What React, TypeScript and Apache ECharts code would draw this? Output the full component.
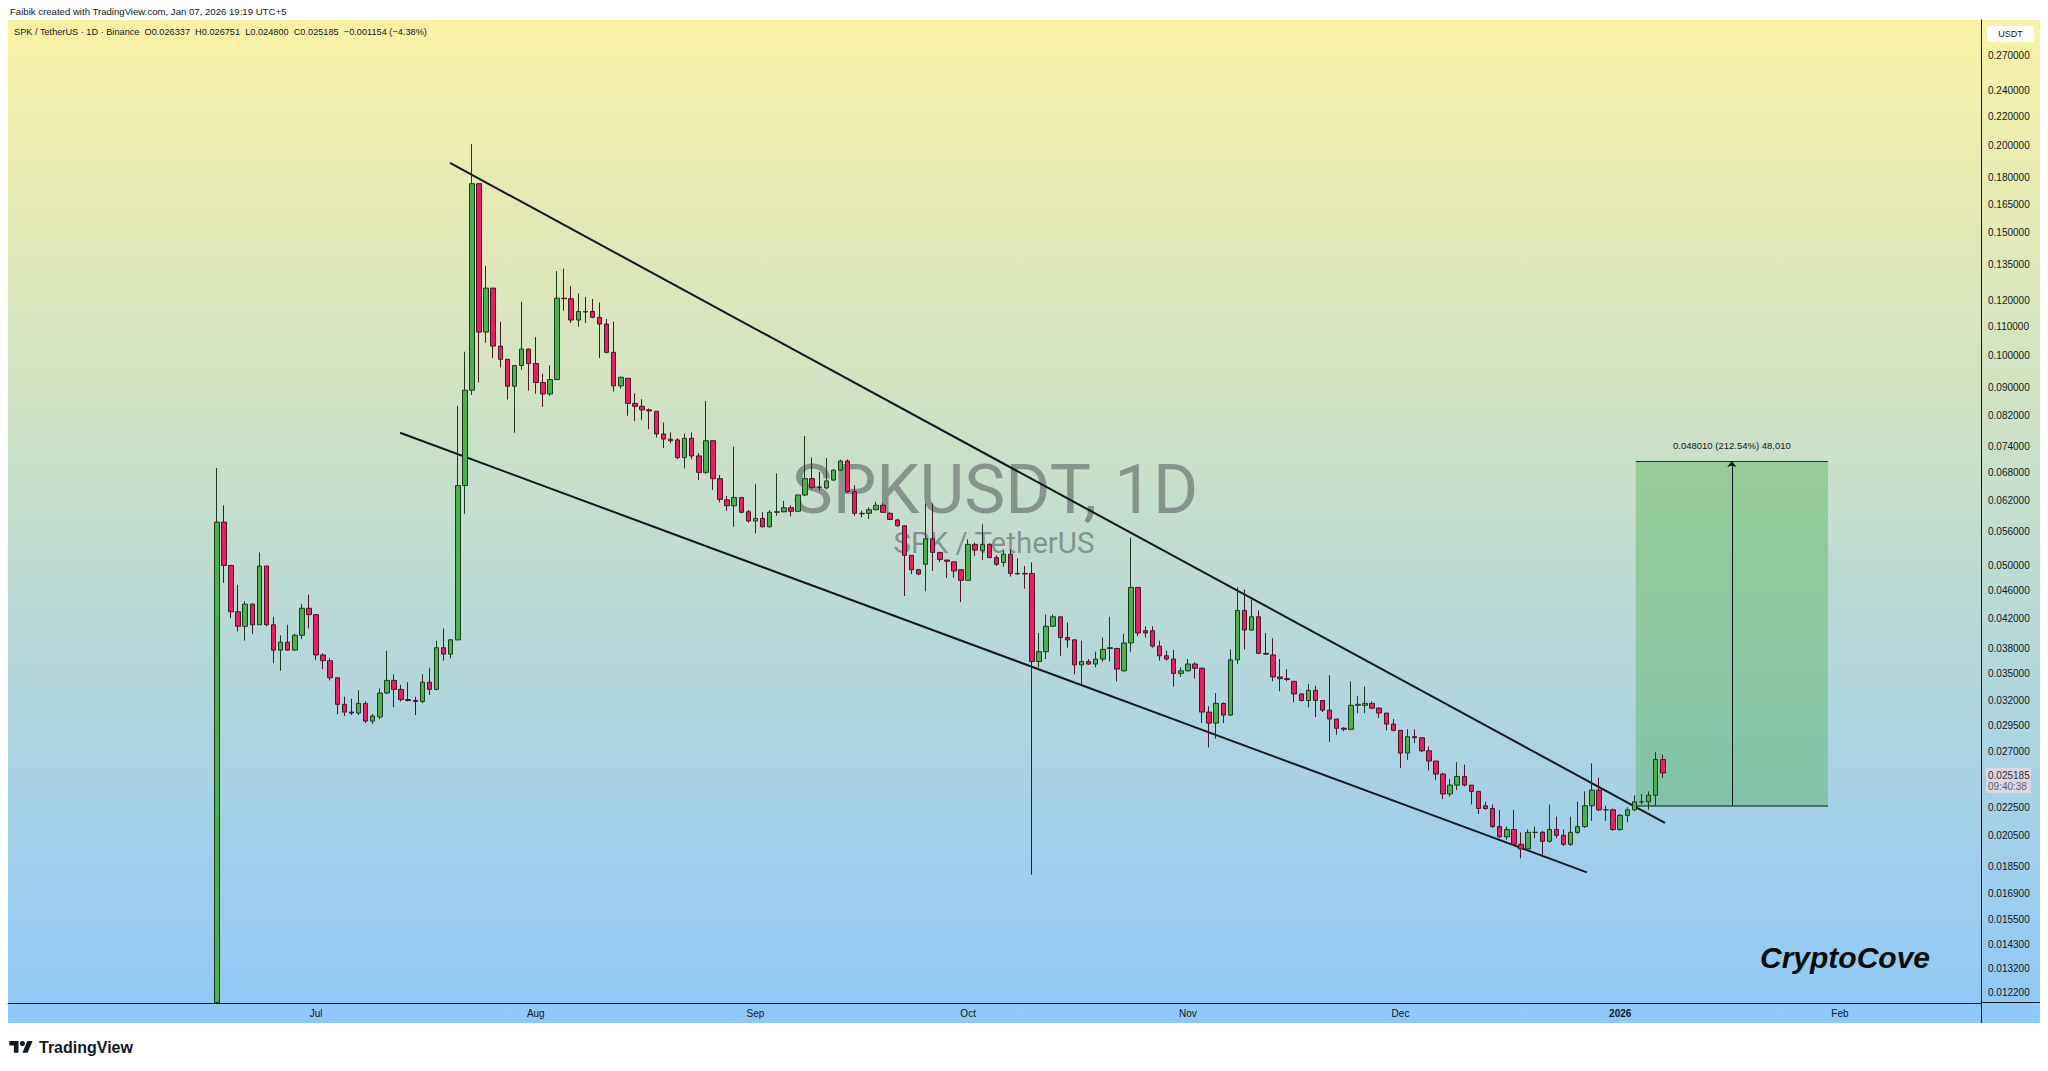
import React, { useEffect, useRef } from 'react';
import * as echarts from 'echarts';

// ---------- DATA ----------
const startDate = '2025-06-17'; // first daily candle (index 0)

const opens = [
  0.0118, 0.0577, 0.0500, 0.0429, 0.0409, 0.0440, 0.0411, 0.0499, 0.0411, 0.0378,
  0.0388, 0.0378, 0.0397, 0.0434, 0.0425, 0.0372, 0.0365, 0.0345, 0.0316, 0.0308,
  0.0307, 0.0317, 0.0299, 0.0303, 0.0328, 0.0342, 0.0332, 0.0321, 0.0320, 0.0319,
  0.0340, 0.0332, 0.0381, 0.0373, 0.0391, 0.0651, 0.0892, 0.1765, 0.1081, 0.1250,
  0.1032, 0.0988, 0.0904, 0.0968, 0.1022, 0.0974, 0.0915, 0.0881, 0.0924, 0.1209,
  0.1207, 0.1125, 0.1157, 0.1157, 0.1135, 0.1110, 0.1011, 0.0905, 0.0928, 0.0854,
  0.0846, 0.0836, 0.0832, 0.0772, 0.0759, 0.0757, 0.0714, 0.0761, 0.0718, 0.0680,
  0.0755, 0.0666, 0.0621, 0.0609, 0.0626, 0.0597, 0.0579, 0.0584, 0.0568, 0.0596,
  0.0597, 0.0605, 0.0598, 0.0631, 0.0666, 0.0648, 0.0646, 0.0663, 0.0685, 0.0706,
  0.0638, 0.0594, 0.0594, 0.0601, 0.0610, 0.0594, 0.0581, 0.0570, 0.0517, 0.0493,
  0.0502, 0.0546, 0.0522, 0.0509, 0.0506, 0.0493, 0.0476, 0.0536, 0.0525, 0.0536,
  0.0513, 0.0505, 0.0519, 0.0487, 0.0487, 0.0487, 0.0364, 0.0376, 0.0409, 0.0422,
  0.0394, 0.0391, 0.0360, 0.0364, 0.0361, 0.0367, 0.0380, 0.0380, 0.0353, 0.0387,
  0.0465, 0.0403, 0.0403, 0.0383, 0.0371, 0.0367, 0.0350, 0.0353, 0.0361, 0.0356,
  0.0308, 0.0297, 0.0317, 0.0305, 0.0366, 0.0431, 0.0404, 0.0422, 0.0374, 0.0372,
  0.0346, 0.0344, 0.0341, 0.0327, 0.0320, 0.0331, 0.0320, 0.0310, 0.0301, 0.0292,
  0.0291, 0.0315, 0.0315, 0.0317, 0.0312, 0.0307, 0.0296, 0.0290, 0.0269, 0.0284,
  0.0283, 0.0271, 0.0262, 0.0251, 0.0235, 0.0242, 0.0249, 0.0242, 0.0237, 0.0226,
  0.0224, 0.0211, 0.0204, 0.0209, 0.0199, 0.0196, 0.0207, 0.0207, 0.0201, 0.0209,
  0.0205, 0.0199, 0.0207, 0.0211, 0.0226, 0.0238, 0.0223, 0.0223, 0.0209, 0.0219,
  0.0223, 0.0229, 0.0229, 0.0234, 0.026337,
];

const closes = [
  0.0577, 0.0500, 0.0429, 0.0409, 0.0440, 0.0411, 0.0499, 0.0411, 0.0378, 0.0388,
  0.0378, 0.0397, 0.0434, 0.0425, 0.0372, 0.0365, 0.0345, 0.0316, 0.0308, 0.0307,
  0.0317, 0.0299, 0.0304, 0.0328, 0.0342, 0.0332, 0.0321, 0.0320, 0.0319, 0.0340,
  0.0332, 0.0381, 0.0373, 0.0391, 0.0651, 0.0892, 0.1765, 0.1081, 0.1250, 0.1032,
  0.0988, 0.0904, 0.0968, 0.1022, 0.0974, 0.0915, 0.0881, 0.0924, 0.1209, 0.1207,
  0.1125, 0.1157, 0.1155, 0.1135, 0.1110, 0.1011, 0.0905, 0.0931, 0.0854, 0.0846,
  0.0836, 0.0833, 0.0772, 0.0759, 0.0755, 0.0714, 0.0761, 0.0718, 0.0680, 0.0755,
  0.0666, 0.0622, 0.0609, 0.0626, 0.0596, 0.0579, 0.0584, 0.0568, 0.0596, 0.0597,
  0.0605, 0.0598, 0.0631, 0.0666, 0.0647, 0.0647, 0.0661, 0.0685, 0.0706, 0.0638,
  0.0594, 0.0593, 0.0601, 0.0610, 0.0596, 0.0582, 0.0570, 0.0517, 0.0493, 0.0486,
  0.0546, 0.0522, 0.0510, 0.0507, 0.0491, 0.0476, 0.0536, 0.0526, 0.0536, 0.0513,
  0.0502, 0.0519, 0.0487, 0.0486, 0.0486, 0.0364, 0.0376, 0.0409, 0.0422, 0.0394,
  0.0391, 0.0360, 0.0364, 0.0361, 0.0367, 0.0379, 0.0381, 0.0355, 0.0387, 0.0465,
  0.0400, 0.0400, 0.0383, 0.0371, 0.0367, 0.0350, 0.0353, 0.0361, 0.0356, 0.0308,
  0.0297, 0.0317, 0.0305, 0.0366, 0.0431, 0.0404, 0.0422, 0.0374, 0.0373, 0.0346,
  0.0344, 0.0343, 0.0327, 0.0320, 0.0331, 0.0320, 0.0310, 0.0301, 0.0292, 0.0291,
  0.0315, 0.0316, 0.0317, 0.0312, 0.0307, 0.0296, 0.0290, 0.0269, 0.0284, 0.0283,
  0.0271, 0.0262, 0.0251, 0.0235, 0.0242, 0.0249, 0.0242, 0.0237, 0.0224, 0.0224,
  0.0211, 0.0204, 0.0209, 0.0199, 0.0196, 0.0207, 0.0207, 0.0201, 0.0209, 0.0205,
  0.0199, 0.0207, 0.0211, 0.0226, 0.0238, 0.0223, 0.0223, 0.0209, 0.0219, 0.0223,
  0.0229, 0.0229, 0.0234, 0.026337, 0.025185,
];

const highs = [
  0.0690, 0.0610, 0.0500, 0.0469, 0.0444, 0.0441, 0.0522, 0.0499, 0.0422, 0.0397,
  0.0411, 0.0399, 0.0440, 0.0454, 0.0425, 0.0374, 0.0368, 0.0345, 0.0324, 0.0322,
  0.0331, 0.0319, 0.0306, 0.0333, 0.0377, 0.0349, 0.0337, 0.0340, 0.0324, 0.0349,
  0.0356, 0.0390, 0.0406, 0.0392, 0.0847, 0.1013, 0.2012, 0.1765, 0.1346, 0.1250,
  0.1119, 0.0989, 0.0968, 0.1195, 0.1023, 0.1063, 0.0942, 0.0968, 0.1322, 0.1333,
  0.1258, 0.1228, 0.1214, 0.1206, 0.1192, 0.1129, 0.1119, 0.0933, 0.0928, 0.0883,
  0.0866, 0.0840, 0.0832, 0.0802, 0.0776, 0.0761, 0.0773, 0.0776, 0.0725, 0.0861,
  0.0755, 0.0674, 0.0629, 0.0740, 0.0626, 0.0601, 0.0654, 0.0596, 0.0600, 0.0678,
  0.0619, 0.0610, 0.0632, 0.0767, 0.0714, 0.0681, 0.0713, 0.0687, 0.0709, 0.0710,
  0.0652, 0.0599, 0.0606, 0.0617, 0.0614, 0.0596, 0.0583, 0.0571, 0.0517, 0.0494,
  0.0614, 0.0614, 0.0522, 0.0509, 0.0506, 0.0493, 0.0545, 0.0539, 0.0573, 0.0538,
  0.0517, 0.0525, 0.0527, 0.0512, 0.0499, 0.0505, 0.0400, 0.0425, 0.0425, 0.0422,
  0.0414, 0.0391, 0.0390, 0.0367, 0.0376, 0.0394, 0.0422, 0.0381, 0.0399, 0.0548,
  0.0465, 0.0409, 0.0409, 0.0390, 0.0377, 0.0378, 0.0357, 0.0367, 0.0363, 0.0357,
  0.0314, 0.0328, 0.0318, 0.0379, 0.0465, 0.0462, 0.0447, 0.0431, 0.0400, 0.0393,
  0.0367, 0.0355, 0.0341, 0.0328, 0.0338, 0.0336, 0.0320, 0.0348, 0.0301, 0.0293,
  0.0341, 0.0325, 0.0335, 0.0319, 0.0313, 0.0307, 0.0301, 0.0290, 0.0291, 0.0291,
  0.0283, 0.0275, 0.0262, 0.0252, 0.0247, 0.0261, 0.0259, 0.0242, 0.0237, 0.0229,
  0.0227, 0.0223, 0.0211, 0.0223, 0.0207, 0.0209, 0.0211, 0.0208, 0.0227, 0.0218,
  0.0209, 0.0218, 0.0229, 0.0237, 0.0260, 0.0248, 0.0226, 0.0224, 0.0220, 0.0225,
  0.0234, 0.0235, 0.0237, 0.0270, 0.026751,
];

const lows = [
  0.0118, 0.0472, 0.0420, 0.0402, 0.0390, 0.0399, 0.0411, 0.0409, 0.0362, 0.0353,
  0.0377, 0.0377, 0.0392, 0.0406, 0.0366, 0.0355, 0.0342, 0.0306, 0.0304, 0.0305,
  0.0305, 0.0297, 0.0296, 0.0301, 0.0327, 0.0313, 0.0319, 0.0319, 0.0305, 0.0317,
  0.0326, 0.0331, 0.0365, 0.0368, 0.0391, 0.0593, 0.0878, 0.0915, 0.1043, 0.0992,
  0.0962, 0.0865, 0.0775, 0.0955, 0.0891, 0.0882, 0.0844, 0.0875, 0.0924, 0.1160,
  0.1114, 0.1100, 0.1114, 0.1131, 0.0992, 0.1008, 0.0888, 0.0897, 0.0820, 0.0806,
  0.0809, 0.0784, 0.0763, 0.0737, 0.0749, 0.0710, 0.0689, 0.0710, 0.0663, 0.0676,
  0.0642, 0.0616, 0.0599, 0.0568, 0.0594, 0.0576, 0.0556, 0.0567, 0.0567, 0.0589,
  0.0596, 0.0588, 0.0596, 0.0629, 0.0643, 0.0640, 0.0643, 0.0661, 0.0684, 0.0636,
  0.0589, 0.0586, 0.0583, 0.0600, 0.0595, 0.0581, 0.0568, 0.0452, 0.0486, 0.0484,
  0.0459, 0.0491, 0.0506, 0.0480, 0.0480, 0.0443, 0.0476, 0.0516, 0.0509, 0.0513,
  0.0499, 0.0498, 0.0482, 0.0485, 0.0463, 0.0180, 0.0357, 0.0367, 0.0408, 0.0371,
  0.0381, 0.0349, 0.0338, 0.0360, 0.0357, 0.0364, 0.0364, 0.0341, 0.0352, 0.0376,
  0.0396, 0.0394, 0.0381, 0.0365, 0.0365, 0.0335, 0.0346, 0.0352, 0.0344, 0.0297,
  0.0274, 0.0282, 0.0297, 0.0304, 0.0361, 0.0379, 0.0403, 0.0373, 0.0372, 0.0341,
  0.0330, 0.0341, 0.0318, 0.0319, 0.0313, 0.0303, 0.0308, 0.0279, 0.0286, 0.0289,
  0.0290, 0.0307, 0.0307, 0.0311, 0.0302, 0.0290, 0.0289, 0.0256, 0.0263, 0.0278,
  0.0270, 0.0254, 0.0246, 0.0231, 0.0233, 0.0238, 0.0241, 0.0227, 0.0220, 0.0223,
  0.0210, 0.0203, 0.0202, 0.0198, 0.0190, 0.0195, 0.0203, 0.0192, 0.0200, 0.0203,
  0.0198, 0.0198, 0.0206, 0.0210, 0.0215, 0.0222, 0.0215, 0.0208, 0.0208, 0.0214,
  0.0222, 0.0227, 0.0223, 0.0226, 0.024800,
];

const monthStarts = ['2025-07-01', '2025-08-01', '2025-09-01', '2025-10-01', '2025-11-01', '2025-12-01', '2026-01-01', '2026-02-01'];
const monthLabels = ['Jul', 'Aug', 'Sep', 'Oct', 'Nov', 'Dec', '2026', 'Feb'];

const priceTicks = [
  0.27, 0.24, 0.22, 0.2, 0.18, 0.165, 0.15, 0.135, 0.12, 0.11, 0.1, 0.09, 0.082, 0.074, 0.068,
  0.062, 0.056, 0.05, 0.046, 0.042, 0.038, 0.035, 0.032, 0.0295, 0.027, 0.0225, 0.0205, 0.0185,
  0.0169, 0.0155, 0.0143, 0.0132, 0.0122,
];

// trendlines: [day index from start, price]
const upperTrend = [[32.9, 0.189], [204.3, 0.02136]];
const lowerTrend = [[25.85, 0.0775], [193.3, 0.01814]];

// price range measurement
const rangeDays = [200.2, 227.3];
const rangeLow = 0.022589;
const rangeHigh = 0.070599;
const rangeLabel = '0.048010 (212.54%) 48,010';

const headerLine1 = 'Faibik created with TradingView.com, Jan 07, 2026 19:19 UTC+5';
const headerLine2 = 'SPK / TetherUS · 1D · Binance  O0.026337  H0.026751  L0.024800  C0.025185  −0.001154 (−4.38%)';

// ---------- helpers ----------
const DAY = 86400000;
const dayIndex = (d: string) => (Date.parse(d + 'T00:00:00Z') - Date.parse(startDate + 'T00:00:00Z')) / DAY;
const monthIdx = monthStarts.map(dayIndex);

echarts.graphic.registerShape(
  'tvlogo',
  echarts.graphic.extendPath('M14 22H7V11H0V4h14v18zM28 22h-8l7.5-18h8L28 22z', {})
);

const FONT = 'Liberation Sans, Arial, sans-serif';

function buildOption() {
  const candles = opens.map((o, i) => [i, o, closes[i], lows[i], highs[i]]);
  const rangeMid = (rangeDays[0] + rangeDays[1]) / 2;
  const boxLine = { color: '#2f5548', width: 1.5, type: 'solid' };

  return {
    animation: false,
    backgroundColor: '#ffffff',
    textStyle: { fontFamily: FONT },
    grid: { left: 8, right: 67, top: 20, bottom: 68, containLabel: false },
    xAxis: {
      type: 'value',
      min: -29.46,
      max: 248.9,
      splitLine: { show: false },
      axisTick: { show: false },
      axisLine: { show: true, onZero: false, lineStyle: { color: '#131722', width: 1 } },
      axisLabel: {
        customValues: monthIdx,
        color: '#131722',
        fontSize: 10,
        margin: 5,
        hideOverlap: false,
        formatter: (v: number) => {
          const k = monthIdx.findIndex((m) => Math.abs(m - v) < 0.01);
          if (k < 0) return '';
          return monthLabels[k] === '2026' ? '{b|2026}' : monthLabels[k];
        },
        rich: { b: { fontWeight: 'bold', fontSize: 10, color: '#131722' } },
      },
    },
    yAxis: {
      type: 'log',
      position: 'right',
      min: 0.01178,
      max: 0.3031,
      splitLine: { show: false },
      axisTick: { show: false },
      axisLine: { show: true, onZero: false, lineStyle: { color: '#131722', width: 1 } },
      axisLabel: {
        customValues: priceTicks,
        color: '#131722',
        fontSize: 10,
        margin: 7,
        hideOverlap: false,
        formatter: (v: number) => v.toFixed(6),
      },
    },
    series: [
      {
        type: 'candlestick',
        data: candles,
        encode: { x: 0, y: [1, 2, 3, 4] },
        barWidth: 5,
        z: 5,
        itemStyle: {
          color: '#4caf50',
          color0: '#e91e63',
          borderColor: '#1d3a1f',
          borderColor0: '#4a1628',
          borderWidth: 1,
        },
        markArea: {
          silent: true,
          itemStyle: { color: 'rgba(76,175,80,0.40)' },
          data: [[{ coord: [rangeDays[0], rangeLow] }, { coord: [rangeDays[1], rangeHigh] }]],
        },
        markLine: {
          silent: true,
          symbol: ['none', 'none'],
          label: { show: false },
          lineStyle: { color: '#131722', width: 2, type: 'solid' },
          data: [
            [{ coord: upperTrend[0] }, { coord: upperTrend[1] }],
            [{ coord: lowerTrend[0] }, { coord: lowerTrend[1] }],
            [{ coord: [rangeDays[0], rangeLow], lineStyle: boxLine }, { coord: [rangeDays[1], rangeLow] }],
            [{ coord: [rangeDays[0], rangeHigh], lineStyle: { color: '#25362c', width: 1.2, type: 'solid' } }, { coord: [rangeDays[1], rangeHigh] }],
            [
              {
                coord: [rangeMid, rangeLow],
                symbol: 'none',
                lineStyle: { color: '#131722', width: 1, type: 'solid' },
                label: {
                  show: true,
                  position: 'end',
                  formatter: rangeLabel,
                  color: '#131722',
                  fontSize: 9.5,
                  distance: 11,
                },
              },
              { coord: [rangeMid, rangeHigh], symbol: 'arrow', symbolSize: [7, 6] },
            ],
          ],
        },
      },
    ],
    graphic: [
      {
        type: 'rect',
        z: -10,
        silent: true,
        shape: { x: 8, y: 20, width: 2032, height: 1003 },
        style: {
          fill: {
            type: 'linear', x: 0, y: 0, x2: 0, y2: 1,
            colorStops: [
              { offset: 0, color: '#f9f2a5' },
              { offset: 1, color: '#8ec8f8' },
            ],
          },
        },
      },
      { type: 'line', z: 1, silent: true, shape: { x1: 1981.5, y1: 20, x2: 1981.5, y2: 1023 }, style: { stroke: '#131722', lineWidth: 1 } },
      { type: 'line', z: 1, silent: true, shape: { x1: 1981, y1: 1002.5, x2: 2040, y2: 1002.5 }, style: { stroke: '#131722', lineWidth: 1 } },
      // watermark
      {
        type: 'text', z: 0, silent: true, x: 995, y: 489,
        style: { text: 'SPKUSDT, 1D', font: '69px Roboto, sans-serif', fill: 'rgba(92,98,98,0.6)', textAlign: 'center', textVerticalAlign: 'middle' },
      },
      {
        type: 'text', z: 0, silent: true, x: 994, y: 543,
        style: { text: 'SPK / TetherUS', font: '29.5px Roboto, sans-serif', fill: 'rgba(92,98,98,0.6)', textAlign: 'center', textVerticalAlign: 'middle' },
      },
      // header
      {
        type: 'text', z: 20, silent: true, x: 10, y: 11,
        style: { text: headerLine1, font: '9.6px ' + FONT, fill: '#131722', textVerticalAlign: 'middle' },
      },
      {
        type: 'text', z: 20, silent: true, x: 14, y: 32,
        style: { text: headerLine2, font: '9.2px ' + FONT, fill: '#131722', textVerticalAlign: 'middle' },
      },
      // USDT box
      { type: 'rect', z: 20, silent: true, shape: { x: 1987, y: 26, width: 47, height: 16, r: 2 }, style: { fill: '#ffffff' } },
      {
        type: 'text', z: 21, silent: true, x: 2010.5, y: 34,
        style: { text: 'USDT', font: '9px ' + FONT, fill: '#131722', textAlign: 'center', textVerticalAlign: 'middle' },
      },
      // last price label
      { type: 'rect', z: 20, silent: true, shape: { x: 1986, y: 768, width: 45, height: 25, r: 1 }, style: { fill: 'rgba(222,214,226,0.95)' } },
      {
        type: 'text', z: 21, silent: true, x: 1988, y: 775,
        style: { text: '0.025185', font: '10px ' + FONT, fill: '#2a2e39', textVerticalAlign: 'middle' },
      },
      {
        type: 'text', z: 21, silent: true, x: 1988, y: 786,
        style: { text: '09:40:38', font: '10px ' + FONT, fill: '#5d606b', textVerticalAlign: 'middle' },
      },
      // CryptoCove
      {
        type: 'text', z: 20, silent: true, x: 1760, y: 957,
        style: { text: 'CryptoCove', font: 'italic bold 30px ' + FONT, fill: '#0b0b0b', textVerticalAlign: 'middle' },
      },
      // TradingView logo
      { type: 'tvlogo', z: 20, silent: true, x: 9.3, y: 1038.4, scaleX: 0.655, scaleY: 0.655, style: { fill: '#131722' } },
      { type: 'circle', z: 20, silent: true, shape: { cx: 22.4, cy: 1043.6, r: 2.6 }, style: { fill: '#131722' } },
      {
        type: 'text', z: 20, silent: true, x: 39, y: 1047,
        style: { text: 'TradingView', font: 'bold 16px ' + FONT, fill: '#131722', textVerticalAlign: 'middle' },
      },
    ],
  };
}

export default function App() {
  const ref = useRef<HTMLDivElement>(null);
  useEffect(() => {
    if (!ref.current) return;
    const chart = echarts.init(ref.current, null, { renderer: 'svg' });
    chart.setOption(buildOption() as any);
    return () => chart.dispose();
  }, []);
  return (
    <div
      ref={ref}
      style={{ position: 'absolute', left: 0, top: 0, width: 2048, height: 1071 }}
    />
  );
}
